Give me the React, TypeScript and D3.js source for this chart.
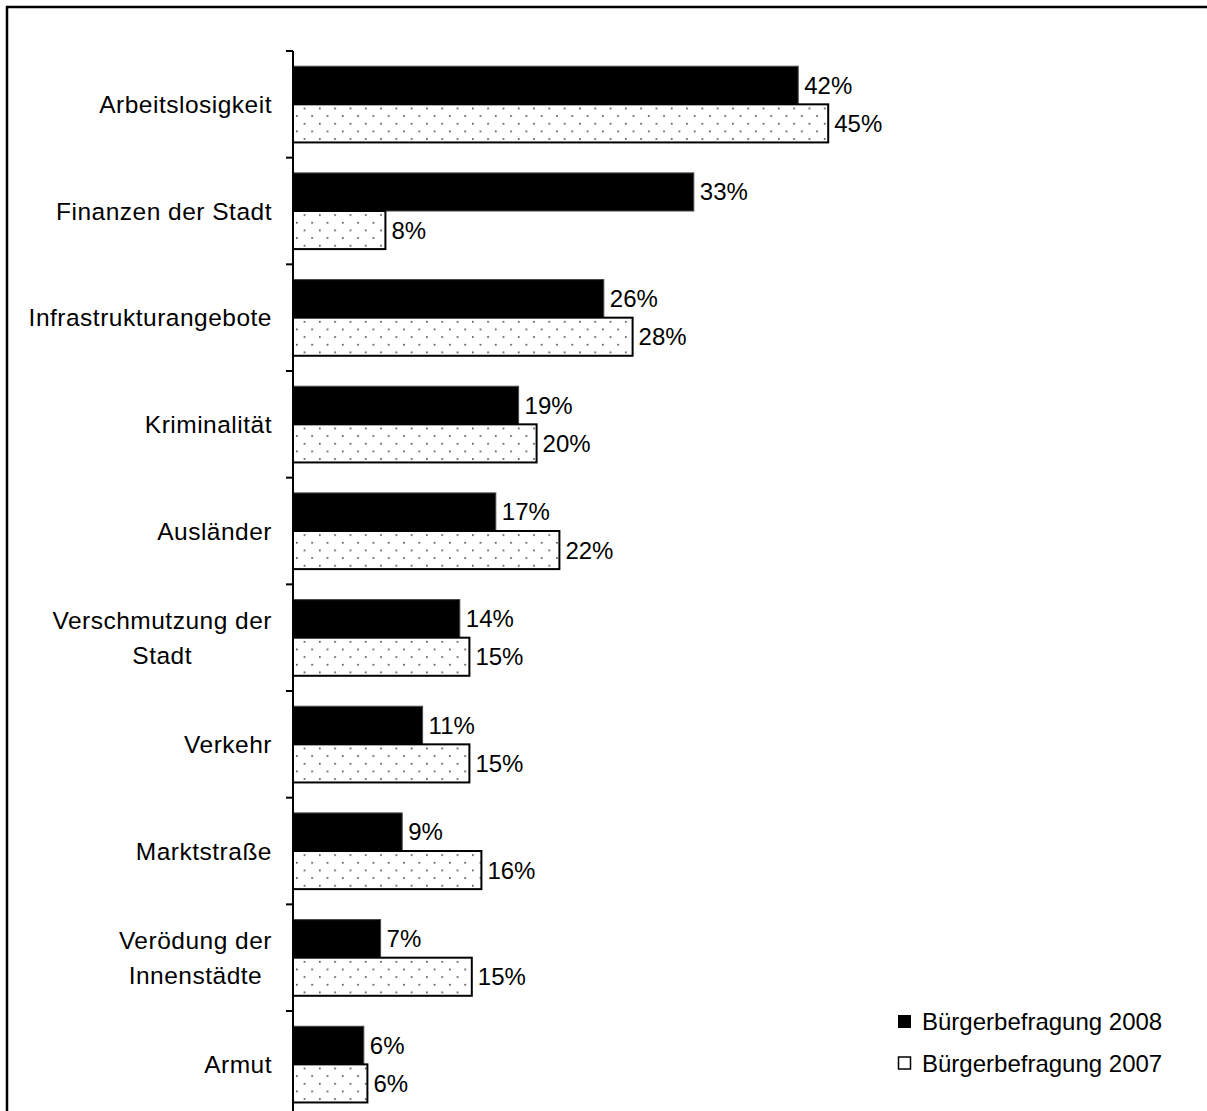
import React, { useEffect, useRef } from "react";
import * as d3 from "d3";

const categories = [
  "Arbeitslosigkeit",
  "Finanzen der Stadt",
  "Infrastrukturangebote",
  "Kriminalität",
  "Ausländer",
  "Verschmutzung der Stadt",
  "Verkehr",
  "Marktstraße",
  "Verödung der Innenstädte",
  "Armut",
];
// label line breaks as in the original
const categoryLines = [
  ["Arbeitslosigkeit"],
  ["Finanzen der Stadt"],
  ["Infrastrukturangebote"],
  ["Kriminalität"],
  ["Ausländer"],
  ["Verschmutzung der", "Stadt"],
  ["Verkehr"],
  ["Marktstraße"],
  ["Verödung der", "Innenstädte"],
  ["Armut"],
];
const seriesNames = ["Bürgerbefragung 2008", "Bürgerbefragung 2007"];
const values2008 = [42.1, 33.4, 25.9, 18.8, 16.9, 13.9, 10.8, 9.1, 7.3, 5.9];
const values2007 = [44.6, 7.7, 28.3, 20.3, 22.2, 14.7, 14.7, 15.7, 14.9, 6.2];

const W = 1207;
const H = 1111;
const FONT = "'Liberation Sans', Arial, sans-serif";

export default function App() {
  const svgRef = useRef<SVGSVGElement>(null);

  useEffect(() => {
    if (!svgRef.current) return;
    const svg = d3.select(svgRef.current);
    svg.selectAll("*").remove();

    // dotted fill pattern
    const defs = svg.append("defs");
    const pat = defs
      .append("pattern")
      .attr("id", "dots")
      .attr("patternUnits", "userSpaceOnUse")
      .attr("x", 296)
      .attr("y", 3)
      .attr("width", 15.3)
      .attr("height", 15.3);
    pat.append("rect").attr("width", 15.3).attr("height", 15.3).attr("fill", "#fff");
    pat.append("rect").attr("x", 0).attr("y", 0).attr("width", 1.7).attr("height", 1.7).attr("fill", "#555");
    pat.append("rect").attr("x", 7.65).attr("y", 7.65).attr("width", 1.7).attr("height", 1.7).attr("fill", "#555");

    // outer frame (cut off at right and bottom)
    svg
      .append("rect")
      .attr("x", 7)
      .attr("y", 7)
      .attr("width", W + 20)
      .attr("height", H + 20)
      .attr("fill", "none")
      .attr("stroke", "#000")
      .attr("stroke-width", 2.5);

    const x = d3.scaleLinear().domain([0, 50]).range([293, 893]);
    const y0 = d3
      .scaleBand<string>()
      .domain(categories)
      .range([51, 51 + 106.67 * categories.length]);
    const y1 = d3
      .scaleBand<string>()
      .domain(seriesNames)
      .range([0, y0.bandwidth()])
      .paddingInner(0)
      .paddingOuter(0.4);

    const data = categories.map((c, i) => ({
      cat: c,
      lines: categoryLines[i],
      vals: [values2008[i], values2007[i]],
    }));

    const g = svg.append("g");
    const groups = g
      .selectAll("g.cat")
      .data(data)
      .enter()
      .append("g")
      .attr("class", "cat")
      .attr("transform", (d) => `translate(0,${y0(d.cat)})`);

    seriesNames.forEach((s, si) => {
      groups
        .append("rect")
        .attr("x", x(0))
        .attr("y", y1(s)!)
        .attr("width", (d) => x(d.vals[si]) - x(0))
        .attr("height", y1.bandwidth())
        .attr("fill", si === 0 ? "#000" : "url(#dots)")
        .attr("stroke", si === 0 ? "#444" : "#000")
        .attr("stroke-width", si === 0 ? 1 : 2);

      groups
        .append("text")
        .attr("x", (d) => x(d.vals[si]) + 6)
        .attr("y", y1(s)! + y1.bandwidth() / 2)
        .attr("dominant-baseline", "central")
        .attr("font-family", FONT)
        .attr("font-size", 24)
        .attr("fill", "#000")
        .text((d) => `${Math.round(d.vals[si])}%`);
    });

    // axis
    const axis = svg.append("g").attr("transform", `translate(${x(0)},0)`);
    axis
      .append("line")
      .attr("x1", 0)
      .attr("x2", 0)
      .attr("y1", y0.range()[0])
      .attr("y2", y0.range()[1])
      .attr("stroke", "#000")
      .attr("stroke-width", 2);
    const tickYs = categories.map((c) => y0(c)!).concat([y0.range()[1]]);
    axis
      .selectAll("line.tick")
      .data(tickYs)
      .enter()
      .append("line")
      .attr("class", "tick")
      .attr("x1", -7)
      .attr("x2", 0)
      .attr("y1", (d) => d)
      .attr("y2", (d) => d)
      .attr("stroke", "#000")
      .attr("stroke-width", 2);

    // category labels (multi-line centered, right edge aligned)
    const labelRight = 272;
    const lineH = 35;
    data.forEach((d) => {
      const cy = y0(d.cat)! + y0.bandwidth() / 2;
      const t = svg
        .append("text")
        .attr("font-family", FONT)
        .attr("font-size", 24.5)
        .attr("letter-spacing", 0.5)
        .attr("fill", "#000")
        .attr("text-anchor", "middle");
      d.lines.forEach((ln, li) => {
        t.append("tspan")
          .attr("x", 0)
          .attr("y", cy + (li - (d.lines.length - 1) / 2) * lineH)
          .attr("dominant-baseline", "central")
          .text(ln);
      });
      const w = (t.node() as SVGTextElement).getBBox().width;
      t.selectAll("tspan").attr("x", labelRight - w / 2);
    });

    // legend
    const legend = svg.append("g").attr("transform", "translate(898,1015)");
    seriesNames.forEach((s, si) => {
      const row = legend.append("g").attr("transform", `translate(0,${si * 41.5})`);
      row
        .append("rect")
        .attr("x", si === 0 ? 0 : 0.5)
        .attr("y", si === 0 ? 0 : 0.5)
        .attr("width", si === 0 ? 13 : 12)
        .attr("height", si === 0 ? 13 : 12)
        .attr("fill", si === 0 ? "#000" : "#fff")
        .attr("stroke", "#000")
        .attr("stroke-width", si === 0 ? 0 : 1.5);
      row
        .append("text")
        .attr("x", 24)
        .attr("y", 6.5)
        .attr("dominant-baseline", "central")
        .attr("font-family", FONT)
        .attr("font-size", 24)
        .attr("fill", "#000")
        .text(s);
    });
  }, []);

  return (
    <svg
      ref={svgRef}
      width={W}
      height={H}
      style={{ position: "absolute", left: 0, top: 0, background: "#fff" }}
    />
  );
}
